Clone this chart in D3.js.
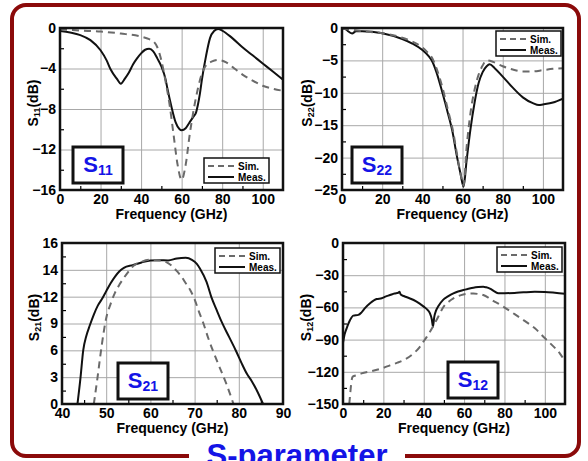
<!DOCTYPE html>
<html>
<head>
<meta charset="utf-8">
<script src="https://cdn.jsdelivr.net/npm/d3@7"></script>
<style>
body { margin: 0; background: #fff; }
svg { display: block; font-family: Arial, "Liberation Sans", sans-serif; font-weight: bold; }
</style>
</head>
<body>
<div id="chart"></div>
<script>
// [frequency GHz, dB]
const s11Meas = [[0,-0.3],[5,-0.45],[10,-0.7],[15,-1.2],[20,-2.2],[23,-3.2],[25,-4.1],[28,-5.0],[30,-5.5],[32,-5.0],[34,-4.4],[36,-3.6],[38,-3.0],[40,-2.5],[42,-2.15],[44,-2.05],[46,-2.3],[48,-3.0],[50,-3.8],[52,-5.0],[53,-6.0],[55,-7.8],[57,-9.3],[59,-10.0],[60,-10.1],[62,-9.9],[64,-9.3],[66,-8.7],[67,-8.4],[68,-7.6],[69,-6.5],[70,-5.1],[72,-2.8],[74,-1.0],[76,-0.3],[78,-0.1],[80,-0.25],[85,-1.0],[90,-1.9],[95,-2.7],[100,-3.5],[105,-4.3],[110,-5.1]];
const s11Sim = [[0,-0.13],[10,-0.25],[20,-0.35],[30,-0.55],[40,-0.85],[44,-1.1],[46,-1.3],[48,-1.9],[50,-3.2],[52,-5.2],[54,-7.5],[56,-10.5],[58,-13.5],[60,-15.0],[62,-13.5],[64,-10.5],[66,-8.0],[68,-6.0],[70,-4.5],[72,-3.7],[75,-3.3],[78,-3.15],[82,-3.4],[86,-4.0],[90,-4.6],[95,-5.2],[100,-5.7],[105,-6.0],[110,-6.2]];

const s22Meas = [[0,0],[2,-0.2],[3,-0.5],[5,-0.85],[7,-0.5],[10,-0.5],[20,-0.8],[30,-1.7],[35,-2.4],[40,-3.4],[43,-4.3],[45,-5.2],[47,-6.8],[50,-10],[53,-13.5],[55,-16],[57,-19.5],[59,-22.5],[60.5,-24.5],[62,-20.5],[64,-15.5],[66,-11.5],[68,-8.5],[70,-6.8],[72,-5.9],[73.5,-5.6],[76,-6.2],[80,-7.5],[85,-9.2],[90,-10.7],[95,-11.6],[98,-11.9],[100,-11.8],[105,-11.5],[110,-10.9]];
const s22Sim = [[0,-0.1],[5,-0.3],[10,-0.5],[20,-0.8],[30,-1.5],[35,-2.1],[40,-3.0],[43,-3.9],[45,-4.7],[47,-6.2],[50,-9.2],[53,-13],[55,-15.5],[57,-19],[59,-22.5],[60.5,-24.3],[62,-18.5],[64,-13],[66,-9.5],[68,-7.2],[70,-5.8],[72,-5.0],[75,-5.2],[80,-5.9],[85,-6.4],[90,-6.7],[95,-6.7],[100,-6.5],[105,-6.3],[110,-6.2]];

const s21Meas = [[43.5,0],[44.2,3.0],[44.8,6.0],[45.5,7.6],[46.3,8.8],[47.2,10.0],[48.1,11.0],[49,11.7],[50,12.4],[51,13.0],[52,13.5],[53,13.9],[54,14.15],[56,14.35],[58,14.55],[60,14.7],[62,14.72],[64,14.7],[66,14.85],[68,14.9],[69.4,14.75],[70.5,14.45],[71.2,14.1],[72.7,13.1],[73.9,11.8],[75,10.5],[76.1,9.2],[77.8,7.5],[79.4,5.9],[80.6,4.6],[81.8,3.4],[83,2.5],[84,1.6],[85.5,0]];
const s21Sim = [[47.2,0],[48.1,3.2],[49,6.6],[50,9.6],[51,11.2],[52,12.3],[53,12.9],[54,13.4],[55,13.85],[56,14.25],[58,14.6],[60,14.75],[62,14.7],[63,14.65],[64,14.5],[65,14.25],[66,13.9],[67,13.5],[68,13.0],[69,12.5],[70,11.7],[71,10.3],[72,9.0],[73.1,7.35],[75,4.9],[77.3,2.1],[78.8,0]];

const s12Meas = [[0,-93],[0.8,-85],[1.8,-79.5],[3.5,-71.8],[5.1,-67.7],[7.6,-67],[9.2,-64.6],[11,-60.5],[13.4,-56.2],[16.7,-52.2],[19.2,-51.5],[21,-50],[23.3,-48.5],[25.5,-47],[27.4,-46.3],[28,-45.5],[28.6,-48],[30.1,-49.4],[32,-50.8],[35,-53.1],[38,-56.5],[40,-59.3],[42,-62.5],[43.1,-65.6],[44,-71],[44.6,-78],[45.2,-69],[46,-63.5],[47.2,-59],[49.6,-53],[52,-49.8],[54.7,-46.9],[57,-45.2],[59.6,-43.8],[62,-42.7],[64.6,-41.6],[67,-41],[69.5,-40.7],[71,-41.3],[72.8,-42.5],[75,-45],[77,-46.9],[80,-46.8],[85,-46.5],[89.4,-46],[95,-45.5],[100,-45.6],[105,-46.3],[110,-47.3]];
const s12Sim = [[3.1,-150],[3.6,-140],[4,-132],[4.8,-124.5],[7,-123],[9.2,-121.5],[14,-119.5],[19.2,-116.8],[23.3,-114],[27,-111.5],[30.1,-109],[35,-102.8],[38,-97],[39.8,-92],[41.5,-87.5],[43.1,-82.7],[45,-76.4],[47.2,-68.7],[49,-62],[50.5,-57.8],[52.5,-54.5],[54.7,-51.6],[57,-49.5],[59.6,-47.9],[62,-47.2],[64.6,-47],[67,-47.5],[69.5,-48.5],[72,-50.8],[74.5,-54],[77,-56.5],[79.4,-59.3],[84,-65],[89.4,-71.8],[95.1,-79.5],[100.1,-88.8],[105.1,-98],[107.5,-103],[110,-110.6]];

// ticks
const freqTicks = [0, 20, 40, 60, 80, 100];
const s21FreqTicks = [40, 50, 60, 70, 80, 90];
const s11Ticks = [0, -4, -8, -12, -16];
const s22Ticks = [0, -5, -10, -15, -20, -25];
const s21Ticks = [0, 3, 6, 9, 12, 14, 16];
const s12Ticks = [0, -30, -60, -90, -120, -150];

const legendLabels = ['Sim.', 'Meas.'];
const titleText = 'S-parameter';

const blue = '#1414e6';

const svg = d3.select('#chart').append('svg')
	.attr('width', 588)
	.attr('height', 461);

// outer frame + title
svg.append('rect')
	.attr('x', 12).attr('y', 5)
	.attr('width', 567).attr('height', 451)
	.attr('rx', 14)
	.attr('fill', 'none')
	.attr('stroke', '#8b0a0a')
	.attr('stroke-width', 4);

svg.append('rect')
	.attr('x', 189).attr('y', 446)
	.attr('width', 216).attr('height', 15)
	.attr('fill', '#fff');

svg.append('text')
	.attr('x', 297).attr('y', 466)
	.attr('text-anchor', 'middle')
	.attr('font-size', 31)
	.attr('fill', blue)
	.text(titleText);

const panels = [
	{ sub: '11', meas: s11Meas, sim: s11Sim, xDomain: [0, 110], xTicks: freqTicks, yTicks: s11Ticks,
	  box: [60, 28, 283, 190], legend: [204, 158], badge: [73, 147], yLabelOff: 27 },
	{ sub: '22', meas: s22Meas, sim: s22Sim, xDomain: [0, 110], xTicks: freqTicks, yTicks: s22Ticks,
	  box: [342, 28, 563, 190], legend: [496, 31], badge: [352, 147], yLabelOff: 35 },
	{ sub: '21', meas: s21Meas, sim: s21Sim, xDomain: [40, 90], xTicks: s21FreqTicks, yTicks: s21Ticks,
	  box: [62, 243, 283, 404], legend: [215, 248], badge: [118, 363], yLabelOff: 28 },
	{ sub: '12', meas: s12Meas, sim: s12Sim, xDomain: [0, 110], xTicks: freqTicks, yTicks: s12Ticks,
	  box: [343, 243, 565, 404], legend: [497, 247], badge: [448, 362], yLabelOff: 37 }
];

function midpoints(arr){
	let out = [];
	for(let i = 0; i < arr.length - 1; i++){
		out.push((arr[i] + arr[i + 1]) / 2);
	}
	return out;
}

function styleText(sel){
	sel.attr('font-family', 'Arial, "Liberation Sans", sans-serif')
		.attr('font-weight', 'bold')
		.attr('font-size', 14)
		.attr('fill', '#000');
}

function drawPanel(p, idx){
	const [x0, y0, x1, y1] = p.box;
	const g = svg.append('g');

	const x = d3.scaleLinear().domain(p.xDomain).range([x0, x1]);
	// ticks sorted ascending -> evenly spaced on the axis
	const yt = p.yTicks.slice().sort((a, b) => a - b);
	const y = d3.scaleLinear()
		.domain(yt)
		.range(yt.map((d, i) => y1 - i * (y1 - y0) / (yt.length - 1)));

	const clipId = 'clip' + idx;
	g.append('clipPath').attr('id', clipId)
		.append('rect')
		.attr('x', x0).attr('y', y0)
		.attr('width', x1 - x0).attr('height', y1 - y0);

	// grid
	g.append('g')
		.attr('transform', `translate(0,${y1})`)
		.call(d3.axisBottom(x).tickValues(p.xTicks).tickSize(-(y1 - y0)).tickFormat(''))
		.call(a => a.select('.domain').remove())
		.selectAll('line').attr('stroke', '#a8a8a8').attr('stroke-width', 1);
	g.append('g')
		.attr('transform', `translate(${x0},0)`)
		.call(d3.axisLeft(y).tickValues(yt).tickSize(-(x1 - x0)).tickFormat(''))
		.call(a => a.select('.domain').remove())
		.selectAll('line').attr('stroke', '#a8a8a8').attr('stroke-width', 1);

	// minor ticks, inward
	const step = p.xTicks[1] - p.xTicks[0];
	const xMinor = midpoints(p.xTicks.concat([p.xTicks[p.xTicks.length - 1] + step]))
		.filter(d => d < p.xDomain[1]);
	g.append('g')
		.attr('transform', `translate(0,${y1})`)
		.call(d3.axisBottom(x).tickValues(xMinor).tickSize(-4).tickFormat(''))
		.call(a => a.select('.domain').remove())
		.selectAll('line').attr('stroke', '#000').attr('stroke-width', 1.2);
	g.append('g')
		.attr('transform', `translate(${x0},0)`)
		.call(d3.axisLeft(y).tickValues(midpoints(yt)).tickSize(-4).tickFormat(''))
		.call(a => a.select('.domain').remove())
		.selectAll('line').attr('stroke', '#000').attr('stroke-width', 1.2);

	// tick labels
	g.append('g')
		.attr('transform', `translate(0,${y1})`)
		.call(d3.axisBottom(x).tickValues(p.xTicks).tickSize(0).tickPadding(4).tickFormat(d3.format('d')))
		.call(a => a.select('.domain').remove())
		.selectAll('text')
		.call(styleText);
	g.append('g')
		.attr('transform', `translate(${x0},0)`)
		.call(d3.axisLeft(y).tickValues(yt).tickSize(0).tickPadding(4).tickFormat(d3.format('d')))
		.call(a => a.select('.domain').remove())
		.selectAll('text')
		.call(styleText);

	// curves
	const line = d3.line()
		.x(d => x(d[0]))
		.y(d => y(d[1]))
		.curve(d3.curveMonotoneX);

	const curves = g.append('g').attr('clip-path', `url(#${clipId})`);
	curves.append('path')
		.attr('d', line(p.meas))
		.attr('fill', 'none')
		.attr('stroke', '#111')
		.attr('stroke-width', 2);
	curves.append('path')
		.attr('d', line(p.sim))
		.attr('fill', 'none')
		.attr('stroke', '#6a6a6a')
		.attr('stroke-width', 2)
		.attr('stroke-dasharray', '7,5');

	// plot frame
	g.append('rect')
		.attr('x', x0).attr('y', y0)
		.attr('width', x1 - x0).attr('height', y1 - y0)
		.attr('fill', 'none')
		.attr('stroke', '#111')
		.attr('stroke-width', 2.5);

	// axis titles
	g.append('text')
		.attr('x', (x0 + x1) / 2).attr('y', y1 + 29)
		.attr('text-anchor', 'middle')
		.attr('font-size', 14)
		.text('Frequency (GHz)');

	const yl = g.append('text')
		.attr('transform', `translate(${x0 - p.yLabelOff + 5},${(y0 + y1) / 2 - 6}) rotate(-90)`)
		.attr('text-anchor', 'middle')
		.attr('font-size', 14);
	yl.append('tspan').text('S');
	yl.append('tspan').attr('font-size', 9).attr('dy', 2).text(p.sub);
	yl.append('tspan').attr('dy', -2).text('(dB)');

	// legend
	const [lx, ly] = p.legend;
	const lg = g.append('g').attr('transform', `translate(${lx},${ly})`);
	lg.append('rect')
		.attr('width', 65).attr('height', 25)
		.attr('fill', '#fff')
		.attr('stroke', '#111')
		.attr('stroke-width', 1.5);
	legendLabels.forEach((lab, i) => {
		const ry = 8 + i * 11;
		lg.append('line')
			.attr('x1', 4).attr('x2', 30)
			.attr('y1', ry).attr('y2', ry)
			.attr('stroke', i == 0 ? '#6a6a6a' : '#111')
			.attr('stroke-width', 2)
			.attr('stroke-dasharray', i == 0 ? '6,4' : null);
		lg.append('text')
			.attr('x', 34).attr('y', ry + 3.5)
			.attr('font-size', 10)
			.text(lab);
	});

	// badge
	const [bx, by] = p.badge;
	const bg = g.append('g').attr('transform', `translate(${bx},${by})`);
	bg.append('rect')
		.attr('width', 50).attr('height', 36)
		.attr('fill', '#fff')
		.attr('stroke', '#111')
		.attr('stroke-width', 3);
	const bt = bg.append('text')
		.attr('x', 25).attr('y', 25)
		.attr('text-anchor', 'middle')
		.attr('font-size', 22)
		.attr('fill', blue);
	bt.append('tspan').text('S');
	bt.append('tspan').attr('font-size', 14).attr('dy', 3).text(p.sub);
}

panels.forEach(drawPanel);
</script>
</body>
</html>
